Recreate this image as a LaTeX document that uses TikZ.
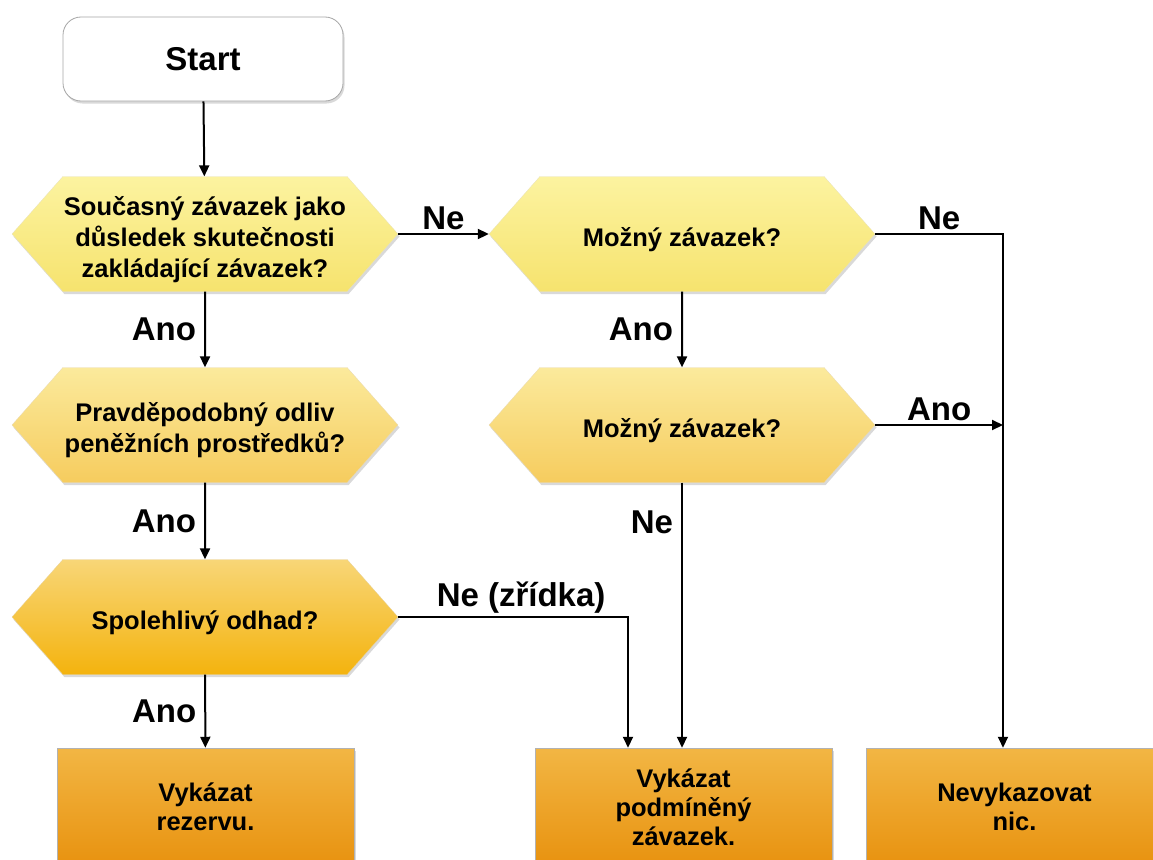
\documentclass[tikz,border=0pt]{standalone}
\usepackage{fontspec}
\setmainfont{Liberation Sans}
\usetikzlibrary{shapes.symbols,arrows.meta,shadows}

\definecolor{yelltop}{HTML}{FCF3A0}
\definecolor{yellbot}{HTML}{F6E36E}
\definecolor{goldtop}{HTML}{FBEA9C}
\definecolor{goldbot}{HTML}{F6CC5E}
\definecolor{ambertop}{HTML}{F8D677}
\definecolor{amberbot}{HTML}{F4B30E}
\definecolor{boxtop}{HTML}{F2B644}
\definecolor{boxbot}{HTML}{E8920F}

\tikzset{
    base/.style={font=\bfseries\fontsize{25.5}{31}\selectfont, align=center, inner sep=0pt,
        drop shadow={shadow xshift=1.5pt, shadow yshift=-2.5pt, opacity=0.3}},
    startbox/.style={base, rectangle, rounded corners=18pt, draw=gray!70, line width=0.8pt, fill=white,
        minimum width=280pt, minimum height=84pt, font=\bfseries\fontsize{33}{38}\selectfont},
    sink/.style={execute at begin node={\rule{0pt}{#1}}},
    decision/.style={base, signal, signal to=west and east, signal pointer angle=97,
        minimum width=386pt, minimum height=115pt, draw=#1bot!80!black!40, line width=0.3pt,
        top color=#1top, bottom color=#1bot, sink=30pt},
    action/.style={base, rectangle, draw=gray!60, line width=0.5pt, top color=boxtop, bottom color=boxbot,
        minimum width=297pt, minimum height=118pt, font=\bfseries\fontsize{25.5}{29}\selectfont},
    link/.style={line width=2pt, -{Triangle[length=11pt,width=10pt]}},
    tag/.style={font=\bfseries\fontsize{33}{36}\selectfont, inner sep=3pt}
}

\begin{document}
\begin{tikzpicture}[x=1pt,y=-1pt]
    \useasboundingbox (0,0) rectangle (1153,859);
    \clip (0,0) rectangle (1153,859);
    %% start and questions
    \node[startbox] (start) at (203,59) {Start};
    \node[decision=yell,sink=93pt] (soucasny) at (205,234) {Současný závazek jako\\důsledek skutečnosti\\zakládající závazek?};
    \node[decision=yell] (mozny1) at (682,234) {Možný závazek?};
    \node[decision=gold,sink=60pt] (odliv) at (205,425) {Pravděpodobný odliv\\peněžních prostředků?};
    \node[decision=gold] (mozny2) at (682,425) {Možný závazek?};
    \node[decision=amber] (odhad) at (205,617) {Spolehlivý odhad?};
    %% outcomes
    \node[action] (rezerva) at (205.5,807) {Vykázat\\rezervu.};
    \node[action] (podminka) at (683.5,807) {Vykázat\\podmíněný\\závazek.};
    \node[action] (nic) at (1014.5,807) {Nevykazovat\\nic.};
    \coordinate (zridka) at ([xshift=-55.5pt]podminka.north);
    \coordinate (nicin) at ([xshift=-11.5pt]nic.north);
    %% connect
    \draw[link] (start) -- (soucasny);
    \draw[link] (soucasny) -- node[tag,midway,left,xshift=-5pt] {Ano} (odliv);
    \draw[link] (odliv) -- node[tag,midway,left,xshift=-5pt] {Ano} (odhad);
    \draw[link] (odhad) -- node[tag,midway,left,xshift=-5pt] {Ano} (rezerva);
    \draw[link] (soucasny.east) -- node[tag,midway,above] {Ne} (mozny1.west);
    \draw[link] (mozny1) -- node[tag,midway,left,xshift=-5pt] {Ano} (mozny2);
    \draw[link] (mozny2.south) -- node[tag,pos=0.15,left,xshift=-5pt] {Ne} (mozny2.south |- podminka.north);
    \draw[link] (mozny1.east) -- node[tag,midway,above] {Ne} (mozny1.east -| nicin) -- (nicin);
    \draw[link] (mozny2.east) -- node[tag,midway,above] {Ano} (mozny2.east -| nicin);
    \draw[link] (odhad.east) -- node[tag,midway,above,xshift=8pt] {Ne (zřídka)} (odhad.east -| zridka) -- (zridka);
\end{tikzpicture}
\end{document}
